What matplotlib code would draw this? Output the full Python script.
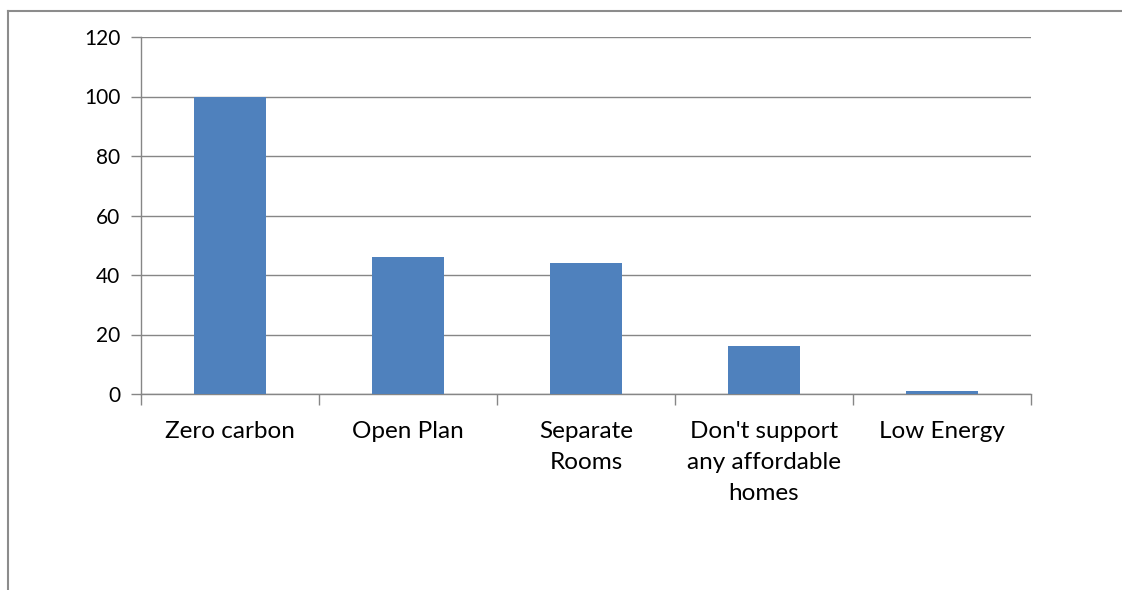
import matplotlib
matplotlib.use("Agg")
import matplotlib.pyplot as plt
from matplotlib.lines import Line2D

categories = ["Zero carbon", "Open Plan", "Separate\nRooms",
              "Don't support\nany affordable\nhomes", "Low Energy"]
counts = [100, 46, 44, 16, 1]
yticks = [0, 20, 40, 60, 80, 100, 120]

plt.rcParams["font.family"] = ["Lato", "DejaVu Sans"]

fig = plt.figure(figsize=(11.22, 5.90), dpi=100)
ax = fig.add_axes([141 / 1122, 1 - 394 / 590, 890 / 1122, 357 / 590])

grid_col = "#868686"
x = range(len(categories))
ax.bar(x, counts, width=0.4, color="#4F81BD", zorder=3)

ax.set_xlim(-0.5, len(categories) - 0.5)
ax.set_ylim(0, 120)
ax.set_yticks(yticks)
ax.set_yticklabels([str(v) for v in yticks], fontsize=15)
ax.yaxis.grid(True, color=grid_col, linewidth=1.0, zorder=0)
ax.tick_params(axis="y", length=7, color=grid_col, width=1.0, pad=8)

# category labels centred, ticks on the boundaries between categories
ax.set_xticks([i - 0.5 for i in range(len(categories) + 1)])
ax.set_xticklabels([])
ax.tick_params(axis="x", length=8, color=grid_col, width=1.0)
for i, lab in enumerate(categories):
    ax.text(i, -9.2, lab, ha="center", va="top", fontsize=17.5,
            linespacing=1.57, transform=ax.transData)

for side in ["top", "right"]:
    ax.spines[side].set_visible(False)
for side in ["left", "bottom"]:
    ax.spines[side].set_color(grid_col)
    ax.spines[side].set_linewidth(1.0)

# outer frame of the chart area
fig.add_artist(Line2D([8 / 1122, 8 / 1122], [0, 1 - 11 / 590],
                      color="#8c8c8c", linewidth=1.5, transform=fig.transFigure))
fig.add_artist(Line2D([8 / 1122, 1], [1 - 11 / 590, 1 - 11 / 590],
                      color="#8c8c8c", linewidth=1.5, transform=fig.transFigure))

fig.savefig("out.png", dpi=100)
